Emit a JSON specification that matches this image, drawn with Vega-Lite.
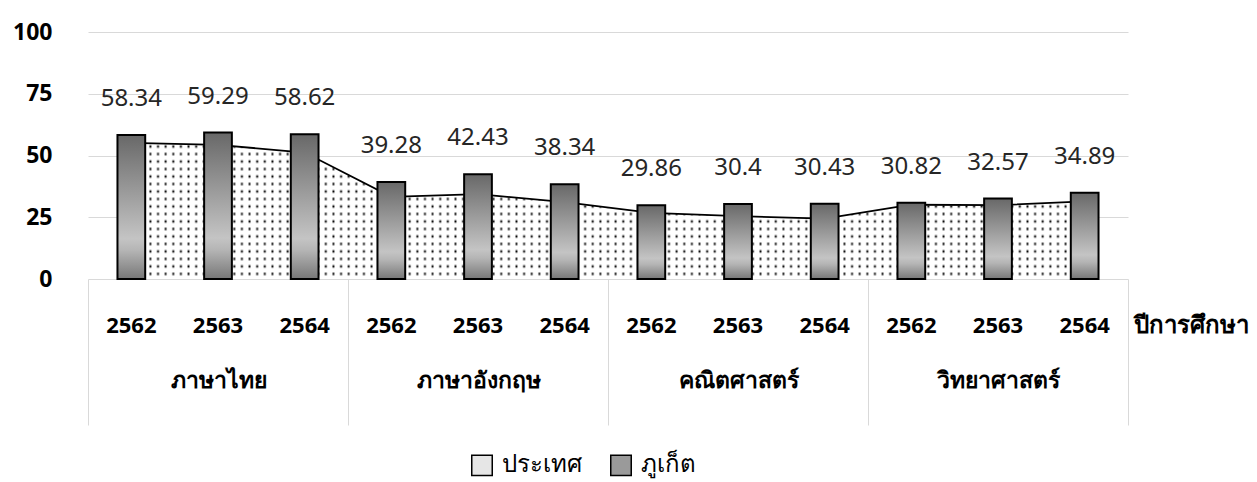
{
  "$schema": "https://vega.github.io/schema/vega-lite/v6.json",
  "width": 1040,
  "height": 247,
  "autosize": "none",
  "padding": {"left": 88, "top": 32, "right": 129, "bottom": 203},
  "background": "white",
  "config": {
    "view": {"stroke": null},
    "font": "Noto Sans"
  },
  "data": {"values": [
    {"subject": "ภาษาไทย", "year": "2562", "cat": "ภาษาไทย|2562", "series": "ภูเก็ต", "value": 58.34},
    {"subject": "ภาษาไทย", "year": "2563", "cat": "ภาษาไทย|2563", "series": "ภูเก็ต", "value": 59.29},
    {"subject": "ภาษาไทย", "year": "2564", "cat": "ภาษาไทย|2564", "series": "ภูเก็ต", "value": 58.62},
    {"subject": "ภาษาอังกฤษ", "year": "2562", "cat": "ภาษาอังกฤษ|2562", "series": "ภูเก็ต", "value": 39.28},
    {"subject": "ภาษาอังกฤษ", "year": "2563", "cat": "ภาษาอังกฤษ|2563", "series": "ภูเก็ต", "value": 42.43},
    {"subject": "ภาษาอังกฤษ", "year": "2564", "cat": "ภาษาอังกฤษ|2564", "series": "ภูเก็ต", "value": 38.34},
    {"subject": "คณิตศาสตร์", "year": "2562", "cat": "คณิตศาสตร์|2562", "series": "ภูเก็ต", "value": 29.86},
    {"subject": "คณิตศาสตร์", "year": "2563", "cat": "คณิตศาสตร์|2563", "series": "ภูเก็ต", "value": 30.4},
    {"subject": "คณิตศาสตร์", "year": "2564", "cat": "คณิตศาสตร์|2564", "series": "ภูเก็ต", "value": 30.43},
    {"subject": "วิทยาศาสตร์", "year": "2562", "cat": "วิทยาศาสตร์|2562", "series": "ภูเก็ต", "value": 30.82},
    {"subject": "วิทยาศาสตร์", "year": "2563", "cat": "วิทยาศาสตร์|2563", "series": "ภูเก็ต", "value": 32.57},
    {"subject": "วิทยาศาสตร์", "year": "2564", "cat": "วิทยาศาสตร์|2564", "series": "ภูเก็ต", "value": 34.89},
    {"subject": "ภาษาไทย", "year": "2562", "cat": "ภาษาไทย|2562", "series": "ประเทศ", "value": 55.14},
    {"subject": "ภาษาไทย", "year": "2563", "cat": "ภาษาไทย|2563", "series": "ประเทศ", "value": 54.29},
    {"subject": "ภาษาไทย", "year": "2564", "cat": "ภาษาไทย|2564", "series": "ประเทศ", "value": 51.19},
    {"subject": "ภาษาอังกฤษ", "year": "2562", "cat": "ภาษาอังกฤษ|2562", "series": "ประเทศ", "value": 33.25},
    {"subject": "ภาษาอังกฤษ", "year": "2563", "cat": "ภาษาอังกฤษ|2563", "series": "ประเทศ", "value": 34.38},
    {"subject": "ภาษาอังกฤษ", "year": "2564", "cat": "ภาษาอังกฤษ|2564", "series": "ประเทศ", "value": 31.11},
    {"subject": "คณิตศาสตร์", "year": "2562", "cat": "คณิตศาสตร์|2562", "series": "ประเทศ", "value": 26.73},
    {"subject": "คณิตศาสตร์", "year": "2563", "cat": "คณิตศาสตร์|2563", "series": "ประเทศ", "value": 25.46},
    {"subject": "คณิตศาสตร์", "year": "2564", "cat": "คณิตศาสตร์|2564", "series": "ประเทศ", "value": 24.47},
    {"subject": "วิทยาศาสตร์", "year": "2562", "cat": "วิทยาศาสตร์|2562", "series": "ประเทศ", "value": 30.07},
    {"subject": "วิทยาศาสตร์", "year": "2563", "cat": "วิทยาศาสตร์|2563", "series": "ประเทศ", "value": 29.89},
    {"subject": "วิทยาศาสตร์", "year": "2564", "cat": "วิทยาศาสตร์|2564", "series": "ประเทศ", "value": 31.45}
  ]},
  "layer": [
    {
      "layer": [
        {
          "transform": [{"filter": "datum.series === 'ประเทศ'"}],
          "mark": {
            "type": "area", "interpolate": "linear", "opacity": 1,
            "fill": {"gradient": "linear", "x1": 0, "y1": 0, "x2": 1, "y2": 0, "stops": [
{"offset":0.002,"color":"#fff"},{"offset":0.004,"color":"#000"},{"offset":0.006,"color":"#fff"},{"offset":0.010,"color":"#fff"},{"offset":0.012,"color":"#000"},{"offset":0.014,"color":"#fff"},{"offset":0.018,"color":"#fff"},{"offset":0.020,"color":"#000"},{"offset":0.022,"color":"#fff"},{"offset":0.026,"color":"#fff"},{"offset":0.028,"color":"#000"},{"offset":0.030,"color":"#fff"},{"offset":0.034,"color":"#fff"},{"offset":0.036,"color":"#000"},{"offset":0.038,"color":"#fff"},
{"offset":0.042,"color":"#fff"},{"offset":0.044,"color":"#000"},{"offset":0.046,"color":"#fff"},{"offset":0.050,"color":"#fff"},{"offset":0.052,"color":"#000"},{"offset":0.054,"color":"#fff"},{"offset":0.058,"color":"#fff"},{"offset":0.060,"color":"#000"},{"offset":0.062,"color":"#fff"},{"offset":0.066,"color":"#fff"},{"offset":0.068,"color":"#000"},{"offset":0.070,"color":"#fff"},{"offset":0.074,"color":"#fff"},{"offset":0.076,"color":"#000"},{"offset":0.078,"color":"#fff"},
{"offset":0.082,"color":"#fff"},{"offset":0.084,"color":"#000"},{"offset":0.086,"color":"#fff"},{"offset":0.090,"color":"#fff"},{"offset":0.092,"color":"#000"},{"offset":0.094,"color":"#fff"},{"offset":0.098,"color":"#fff"},{"offset":0.100,"color":"#000"},{"offset":0.102,"color":"#fff"},{"offset":0.106,"color":"#fff"},{"offset":0.108,"color":"#000"},{"offset":0.110,"color":"#fff"},{"offset":0.114,"color":"#fff"},{"offset":0.116,"color":"#000"},{"offset":0.118,"color":"#fff"},
{"offset":0.122,"color":"#fff"},{"offset":0.124,"color":"#000"},{"offset":0.126,"color":"#fff"},{"offset":0.130,"color":"#fff"},{"offset":0.132,"color":"#000"},{"offset":0.134,"color":"#fff"},{"offset":0.138,"color":"#fff"},{"offset":0.140,"color":"#000"},{"offset":0.142,"color":"#fff"},{"offset":0.146,"color":"#fff"},{"offset":0.148,"color":"#000"},{"offset":0.150,"color":"#fff"},{"offset":0.154,"color":"#fff"},{"offset":0.156,"color":"#000"},{"offset":0.158,"color":"#fff"},
{"offset":0.162,"color":"#fff"},{"offset":0.164,"color":"#000"},{"offset":0.166,"color":"#fff"},{"offset":0.170,"color":"#fff"},{"offset":0.172,"color":"#000"},{"offset":0.174,"color":"#fff"},{"offset":0.178,"color":"#fff"},{"offset":0.180,"color":"#000"},{"offset":0.182,"color":"#fff"},{"offset":0.186,"color":"#fff"},{"offset":0.188,"color":"#000"},{"offset":0.190,"color":"#fff"},{"offset":0.194,"color":"#fff"},{"offset":0.196,"color":"#000"},{"offset":0.198,"color":"#fff"},
{"offset":0.202,"color":"#fff"},{"offset":0.204,"color":"#000"},{"offset":0.206,"color":"#fff"},{"offset":0.210,"color":"#fff"},{"offset":0.212,"color":"#000"},{"offset":0.214,"color":"#fff"},{"offset":0.218,"color":"#fff"},{"offset":0.220,"color":"#000"},{"offset":0.222,"color":"#fff"},{"offset":0.226,"color":"#fff"},{"offset":0.228,"color":"#000"},{"offset":0.230,"color":"#fff"},{"offset":0.234,"color":"#fff"},{"offset":0.236,"color":"#000"},{"offset":0.238,"color":"#fff"},
{"offset":0.242,"color":"#fff"},{"offset":0.244,"color":"#000"},{"offset":0.246,"color":"#fff"},{"offset":0.250,"color":"#fff"},{"offset":0.252,"color":"#000"},{"offset":0.254,"color":"#fff"},{"offset":0.258,"color":"#fff"},{"offset":0.260,"color":"#000"},{"offset":0.262,"color":"#fff"},{"offset":0.266,"color":"#fff"},{"offset":0.268,"color":"#000"},{"offset":0.270,"color":"#fff"},{"offset":0.274,"color":"#fff"},{"offset":0.276,"color":"#000"},{"offset":0.278,"color":"#fff"},
{"offset":0.282,"color":"#fff"},{"offset":0.284,"color":"#000"},{"offset":0.286,"color":"#fff"},{"offset":0.290,"color":"#fff"},{"offset":0.292,"color":"#000"},{"offset":0.294,"color":"#fff"},{"offset":0.298,"color":"#fff"},{"offset":0.300,"color":"#000"},{"offset":0.302,"color":"#fff"},{"offset":0.306,"color":"#fff"},{"offset":0.308,"color":"#000"},{"offset":0.310,"color":"#fff"},{"offset":0.314,"color":"#fff"},{"offset":0.316,"color":"#000"},{"offset":0.318,"color":"#fff"},
{"offset":0.322,"color":"#fff"},{"offset":0.324,"color":"#000"},{"offset":0.326,"color":"#fff"},{"offset":0.330,"color":"#fff"},{"offset":0.332,"color":"#000"},{"offset":0.334,"color":"#fff"},{"offset":0.338,"color":"#fff"},{"offset":0.340,"color":"#000"},{"offset":0.342,"color":"#fff"},{"offset":0.346,"color":"#fff"},{"offset":0.348,"color":"#000"},{"offset":0.350,"color":"#fff"},{"offset":0.354,"color":"#fff"},{"offset":0.356,"color":"#000"},{"offset":0.358,"color":"#fff"},
{"offset":0.362,"color":"#fff"},{"offset":0.364,"color":"#000"},{"offset":0.366,"color":"#fff"},{"offset":0.370,"color":"#fff"},{"offset":0.372,"color":"#000"},{"offset":0.374,"color":"#fff"},{"offset":0.378,"color":"#fff"},{"offset":0.380,"color":"#000"},{"offset":0.382,"color":"#fff"},{"offset":0.386,"color":"#fff"},{"offset":0.388,"color":"#000"},{"offset":0.390,"color":"#fff"},{"offset":0.394,"color":"#fff"},{"offset":0.396,"color":"#000"},{"offset":0.398,"color":"#fff"},
{"offset":0.402,"color":"#fff"},{"offset":0.404,"color":"#000"},{"offset":0.406,"color":"#fff"},{"offset":0.410,"color":"#fff"},{"offset":0.412,"color":"#000"},{"offset":0.414,"color":"#fff"},{"offset":0.418,"color":"#fff"},{"offset":0.420,"color":"#000"},{"offset":0.422,"color":"#fff"},{"offset":0.426,"color":"#fff"},{"offset":0.428,"color":"#000"},{"offset":0.430,"color":"#fff"},{"offset":0.434,"color":"#fff"},{"offset":0.436,"color":"#000"},{"offset":0.438,"color":"#fff"},
{"offset":0.442,"color":"#fff"},{"offset":0.444,"color":"#000"},{"offset":0.446,"color":"#fff"},{"offset":0.450,"color":"#fff"},{"offset":0.452,"color":"#000"},{"offset":0.454,"color":"#fff"},{"offset":0.458,"color":"#fff"},{"offset":0.460,"color":"#000"},{"offset":0.462,"color":"#fff"},{"offset":0.466,"color":"#fff"},{"offset":0.468,"color":"#000"},{"offset":0.470,"color":"#fff"},{"offset":0.474,"color":"#fff"},{"offset":0.476,"color":"#000"},{"offset":0.478,"color":"#fff"},
{"offset":0.482,"color":"#fff"},{"offset":0.484,"color":"#000"},{"offset":0.486,"color":"#fff"},{"offset":0.490,"color":"#fff"},{"offset":0.492,"color":"#000"},{"offset":0.494,"color":"#fff"},{"offset":0.498,"color":"#fff"},{"offset":0.500,"color":"#000"},{"offset":0.502,"color":"#fff"},{"offset":0.506,"color":"#fff"},{"offset":0.508,"color":"#000"},{"offset":0.510,"color":"#fff"},{"offset":0.514,"color":"#fff"},{"offset":0.516,"color":"#000"},{"offset":0.518,"color":"#fff"},
{"offset":0.522,"color":"#fff"},{"offset":0.524,"color":"#000"},{"offset":0.526,"color":"#fff"},{"offset":0.530,"color":"#fff"},{"offset":0.532,"color":"#000"},{"offset":0.534,"color":"#fff"},{"offset":0.538,"color":"#fff"},{"offset":0.540,"color":"#000"},{"offset":0.542,"color":"#fff"},{"offset":0.546,"color":"#fff"},{"offset":0.548,"color":"#000"},{"offset":0.550,"color":"#fff"},{"offset":0.554,"color":"#fff"},{"offset":0.556,"color":"#000"},{"offset":0.558,"color":"#fff"},
{"offset":0.562,"color":"#fff"},{"offset":0.564,"color":"#000"},{"offset":0.566,"color":"#fff"},{"offset":0.570,"color":"#fff"},{"offset":0.572,"color":"#000"},{"offset":0.574,"color":"#fff"},{"offset":0.578,"color":"#fff"},{"offset":0.580,"color":"#000"},{"offset":0.582,"color":"#fff"},{"offset":0.586,"color":"#fff"},{"offset":0.588,"color":"#000"},{"offset":0.590,"color":"#fff"},{"offset":0.594,"color":"#fff"},{"offset":0.596,"color":"#000"},{"offset":0.598,"color":"#fff"},
{"offset":0.602,"color":"#fff"},{"offset":0.604,"color":"#000"},{"offset":0.606,"color":"#fff"},{"offset":0.610,"color":"#fff"},{"offset":0.612,"color":"#000"},{"offset":0.614,"color":"#fff"},{"offset":0.618,"color":"#fff"},{"offset":0.620,"color":"#000"},{"offset":0.622,"color":"#fff"},{"offset":0.626,"color":"#fff"},{"offset":0.628,"color":"#000"},{"offset":0.630,"color":"#fff"},{"offset":0.634,"color":"#fff"},{"offset":0.636,"color":"#000"},{"offset":0.638,"color":"#fff"},
{"offset":0.642,"color":"#fff"},{"offset":0.644,"color":"#000"},{"offset":0.646,"color":"#fff"},{"offset":0.650,"color":"#fff"},{"offset":0.652,"color":"#000"},{"offset":0.654,"color":"#fff"},{"offset":0.658,"color":"#fff"},{"offset":0.660,"color":"#000"},{"offset":0.662,"color":"#fff"},{"offset":0.666,"color":"#fff"},{"offset":0.668,"color":"#000"},{"offset":0.670,"color":"#fff"},{"offset":0.674,"color":"#fff"},{"offset":0.676,"color":"#000"},{"offset":0.678,"color":"#fff"},
{"offset":0.682,"color":"#fff"},{"offset":0.684,"color":"#000"},{"offset":0.686,"color":"#fff"},{"offset":0.690,"color":"#fff"},{"offset":0.692,"color":"#000"},{"offset":0.694,"color":"#fff"},{"offset":0.698,"color":"#fff"},{"offset":0.700,"color":"#000"},{"offset":0.702,"color":"#fff"},{"offset":0.706,"color":"#fff"},{"offset":0.708,"color":"#000"},{"offset":0.710,"color":"#fff"},{"offset":0.714,"color":"#fff"},{"offset":0.716,"color":"#000"},{"offset":0.718,"color":"#fff"},
{"offset":0.722,"color":"#fff"},{"offset":0.724,"color":"#000"},{"offset":0.726,"color":"#fff"},{"offset":0.730,"color":"#fff"},{"offset":0.732,"color":"#000"},{"offset":0.734,"color":"#fff"},{"offset":0.738,"color":"#fff"},{"offset":0.740,"color":"#000"},{"offset":0.742,"color":"#fff"},{"offset":0.746,"color":"#fff"},{"offset":0.748,"color":"#000"},{"offset":0.750,"color":"#fff"},{"offset":0.754,"color":"#fff"},{"offset":0.756,"color":"#000"},{"offset":0.758,"color":"#fff"},
{"offset":0.762,"color":"#fff"},{"offset":0.764,"color":"#000"},{"offset":0.766,"color":"#fff"},{"offset":0.770,"color":"#fff"},{"offset":0.772,"color":"#000"},{"offset":0.774,"color":"#fff"},{"offset":0.778,"color":"#fff"},{"offset":0.780,"color":"#000"},{"offset":0.782,"color":"#fff"},{"offset":0.786,"color":"#fff"},{"offset":0.788,"color":"#000"},{"offset":0.790,"color":"#fff"},{"offset":0.794,"color":"#fff"},{"offset":0.796,"color":"#000"},{"offset":0.798,"color":"#fff"},
{"offset":0.802,"color":"#fff"},{"offset":0.804,"color":"#000"},{"offset":0.806,"color":"#fff"},{"offset":0.810,"color":"#fff"},{"offset":0.812,"color":"#000"},{"offset":0.814,"color":"#fff"},{"offset":0.818,"color":"#fff"},{"offset":0.820,"color":"#000"},{"offset":0.822,"color":"#fff"},{"offset":0.826,"color":"#fff"},{"offset":0.828,"color":"#000"},{"offset":0.830,"color":"#fff"},{"offset":0.834,"color":"#fff"},{"offset":0.836,"color":"#000"},{"offset":0.838,"color":"#fff"},
{"offset":0.842,"color":"#fff"},{"offset":0.844,"color":"#000"},{"offset":0.846,"color":"#fff"},{"offset":0.850,"color":"#fff"},{"offset":0.852,"color":"#000"},{"offset":0.854,"color":"#fff"},{"offset":0.858,"color":"#fff"},{"offset":0.860,"color":"#000"},{"offset":0.862,"color":"#fff"},{"offset":0.866,"color":"#fff"},{"offset":0.868,"color":"#000"},{"offset":0.870,"color":"#fff"},{"offset":0.874,"color":"#fff"},{"offset":0.876,"color":"#000"},{"offset":0.878,"color":"#fff"},
{"offset":0.882,"color":"#fff"},{"offset":0.884,"color":"#000"},{"offset":0.886,"color":"#fff"},{"offset":0.890,"color":"#fff"},{"offset":0.892,"color":"#000"},{"offset":0.894,"color":"#fff"},{"offset":0.898,"color":"#fff"},{"offset":0.900,"color":"#000"},{"offset":0.902,"color":"#fff"},{"offset":0.906,"color":"#fff"},{"offset":0.908,"color":"#000"},{"offset":0.910,"color":"#fff"},{"offset":0.914,"color":"#fff"},{"offset":0.916,"color":"#000"},{"offset":0.918,"color":"#fff"},
{"offset":0.922,"color":"#fff"},{"offset":0.924,"color":"#000"},{"offset":0.926,"color":"#fff"},{"offset":0.930,"color":"#fff"},{"offset":0.932,"color":"#000"},{"offset":0.934,"color":"#fff"},{"offset":0.938,"color":"#fff"},{"offset":0.940,"color":"#000"},{"offset":0.942,"color":"#fff"},{"offset":0.946,"color":"#fff"},{"offset":0.948,"color":"#000"},{"offset":0.950,"color":"#fff"},{"offset":0.954,"color":"#fff"},{"offset":0.956,"color":"#000"},{"offset":0.958,"color":"#fff"},
{"offset":0.962,"color":"#fff"},{"offset":0.964,"color":"#000"},{"offset":0.966,"color":"#fff"},{"offset":0.970,"color":"#fff"},{"offset":0.972,"color":"#000"},{"offset":0.974,"color":"#fff"},{"offset":0.978,"color":"#fff"},{"offset":0.980,"color":"#000"},{"offset":0.982,"color":"#fff"},{"offset":0.986,"color":"#fff"},{"offset":0.988,"color":"#000"},{"offset":0.990,"color":"#fff"},{"offset":0.994,"color":"#fff"},{"offset":0.996,"color":"#000"},{"offset":0.998,"color":"#fff"}
            ]}
          },
          "encoding": {
            "x": {
              "field": "cat", "type": "nominal", "sort": null,
              "scale": {"type": "band", "paddingInner": 0.68, "paddingOuter": 0.34},
              "axis": {
                "title": "ปีการศึกษา",
                "labelExpr": "split(datum.label, '|')[1]",
                "labelAngle": 0,
                "ticks": false,
                "domain": false,
                "grid": false,
                "labelFontSize": 22,
                "labelFontWeight": "bold",
                "labelColor": "#000000",
                "labelBaseline": "middle",
                "labelPadding": 46,
                "labelOverlap": false,
                "titleX": 1045,
                "titleY": 46,
                "titleAlign": "left",
                "titleBaseline": "middle",
                "titleAngle": 0,
                "titleFontSize": 24,
                "titleFontWeight": "bold",
                "titleColor": "#000000"
              }
            },
            "y": {
              "field": "value", "type": "quantitative",
              "scale": {"domain": [0, 100], "nice": false},
              "axis": {
                "title": null,
                "values": [0, 25, 50, 75, 100],
                "grid": true,
                "gridColor": "#d9d9d9",
                "gridWidth": 1,
                "domain": false,
                "ticks": false,
                "labelFontSize": 23,
                "labelFontWeight": "bold",
                "labelColor": "#000000",
                "labelPadding": 36
              }
            }
          }
        },
        {
          "transform": [{"filter": "datum.series === 'ประเทศ'"}],
          "mark": {
            "type": "area", "interpolate": "linear", "opacity": 1,
            "fill": {"gradient": "linear", "x1": 0, "y1": 0, "x2": 0, "y2": 1, "stops": [
{"offset":0.0105,"color":"#ffffff"},{"offset":0.0275,"color":"rgba(255,255,255,0)"},{"offset":0.0445,"color":"#ffffff"},
{"offset":0.0655,"color":"#ffffff"},{"offset":0.0825,"color":"rgba(255,255,255,0)"},{"offset":0.0995,"color":"#ffffff"},
{"offset":0.1205,"color":"#ffffff"},{"offset":0.1375,"color":"rgba(255,255,255,0)"},{"offset":0.1545,"color":"#ffffff"},
{"offset":0.1755,"color":"#ffffff"},{"offset":0.1925,"color":"rgba(255,255,255,0)"},{"offset":0.2095,"color":"#ffffff"},
{"offset":0.2305,"color":"#ffffff"},{"offset":0.2475,"color":"rgba(255,255,255,0)"},{"offset":0.2645,"color":"#ffffff"},
{"offset":0.2855,"color":"#ffffff"},{"offset":0.3025,"color":"rgba(255,255,255,0)"},{"offset":0.3195,"color":"#ffffff"},
{"offset":0.3405,"color":"#ffffff"},{"offset":0.3575,"color":"rgba(255,255,255,0)"},{"offset":0.3745,"color":"#ffffff"},
{"offset":0.3955,"color":"#ffffff"},{"offset":0.4125,"color":"rgba(255,255,255,0)"},{"offset":0.4295,"color":"#ffffff"},
{"offset":0.4505,"color":"#ffffff"},{"offset":0.4675,"color":"rgba(255,255,255,0)"},{"offset":0.4845,"color":"#ffffff"},
{"offset":0.5055,"color":"#ffffff"},{"offset":0.5225,"color":"rgba(255,255,255,0)"},{"offset":0.5395,"color":"#ffffff"},
{"offset":0.5605,"color":"#ffffff"},{"offset":0.5775,"color":"rgba(255,255,255,0)"},{"offset":0.5945,"color":"#ffffff"},
{"offset":0.6155,"color":"#ffffff"},{"offset":0.6325,"color":"rgba(255,255,255,0)"},{"offset":0.6495,"color":"#ffffff"},
{"offset":0.6705,"color":"#ffffff"},{"offset":0.6875,"color":"rgba(255,255,255,0)"},{"offset":0.7045,"color":"#ffffff"},
{"offset":0.7255,"color":"#ffffff"},{"offset":0.7425,"color":"rgba(255,255,255,0)"},{"offset":0.7595,"color":"#ffffff"},
{"offset":0.7805,"color":"#ffffff"},{"offset":0.7975,"color":"rgba(255,255,255,0)"},{"offset":0.8145,"color":"#ffffff"},
{"offset":0.8355,"color":"#ffffff"},{"offset":0.8525,"color":"rgba(255,255,255,0)"},{"offset":0.8695,"color":"#ffffff"},
{"offset":0.8905,"color":"#ffffff"},{"offset":0.9075,"color":"rgba(255,255,255,0)"},{"offset":0.9245,"color":"#ffffff"},
{"offset":0.9455,"color":"#ffffff"},{"offset":0.9625,"color":"rgba(255,255,255,0)"},{"offset":0.9795,"color":"#ffffff"}
            ]}
          },
          "encoding": {
            "x": {"field": "cat", "type": "nominal", "sort": null},
            "y": {"field": "value", "type": "quantitative"}
          }
        },
        {
          "transform": [{"filter": "datum.series === 'ประเทศ'"}],
          "mark": {"type": "line", "color": "#000000", "strokeWidth": 1.8},
          "encoding": {
            "x": {"field": "cat", "type": "nominal", "sort": null},
            "y": {"field": "value", "type": "quantitative"}
          }
        },
        {
          "transform": [{"filter": "datum.series === 'ภูเก็ต'"}],
          "mark": {
            "type": "bar", "stroke": "#000000", "strokeWidth": 2,
            "fill": {"gradient": "linear", "x1": 0, "y1": 0, "x2": 0, "y2": 1,
              "stops": [
                {"offset": 0, "color": "#686868"},
                {"offset": 0.72, "color": "#c4c4c4"},
                {"offset": 0.8, "color": "#b5b5b5"},
                {"offset": 1, "color": "#777777"}
              ]}
          },
          "encoding": {
            "x": {"field": "cat", "type": "nominal", "sort": null},
            "y": {"field": "value", "type": "quantitative"}
          }
        },
        {
          "transform": [{"filter": "datum.series === 'ภูเก็ต'"}],
          "mark": {"type": "bar", "opacity": 0},
          "encoding": {
            "x": {"field": "cat", "type": "nominal", "sort": null},
            "y": {"field": "value", "type": "quantitative"},
            "fill": {
              "field": "series", "type": "nominal",
              "scale": {"domain": ["ประเทศ", "ภูเก็ต"], "range": ["#e6e6e6", "#9a9a9a"]},
              "legend": {
                "title": null,
                "orient": "none",
                "legendX": 382,
                "legendY": 421,
                "direction": "horizontal",
                "symbolType": "square",
                "symbolSize": 420,
                "symbolStrokeWidth": 1.5,
                "symbolOpacity": 1,
                "labelFontSize": 24,
                "labelColor": "#000000",
                "labelOffset": 8,
                "columnPadding": 25
              }
            },
            "stroke": {
              "field": "series", "type": "nominal",
              "scale": {"domain": ["ประเทศ", "ภูเก็ต"], "range": ["#000000", "#000000"]},
              "legend": {
                "title": null,
                "orient": "none",
                "legendX": 382,
                "legendY": 421,
                "direction": "horizontal",
                "symbolType": "square",
                "symbolSize": 420,
                "symbolStrokeWidth": 1.5,
                "symbolOpacity": 1,
                "labelFontSize": 24,
                "labelColor": "#000000",
                "labelOffset": 8,
                "columnPadding": 25
              }
            }
          }
        },
        {
          "transform": [{"filter": "datum.series === 'ภูเก็ต'"}],
          "mark": {"type": "text", "dy": -36, "fontSize": 24, "color": "#262626", "baseline": "middle"},
          "encoding": {
            "x": {"field": "cat", "type": "nominal", "sort": null},
            "y": {"field": "value", "type": "quantitative"},
            "text": {"field": "value", "type": "nominal"}
          }
        }
      ]
    },
    {
      "mark": {"type": "rule", "opacity": 0},
      "encoding": {
        "x": {
          "field": "subject", "type": "nominal", "sort": null,
          "scale": {"type": "band", "paddingInner": 0, "paddingOuter": 0},
          "axis": {
            "orient": "bottom",
            "title": null,
            "domain": false,
            "grid": false,
            "ticks": true,
            "tickBand": "extent",
            "tickSize": 146,
            "tickColor": "#d9d9d9",
            "tickWidth": 1,
            "labelAngle": 0,
            "labelFontSize": 23,
            "labelFontWeight": "bold",
            "labelColor": "#000000",
            "labelBaseline": "middle",
            "labelPadding": -45
          }
        }
      }
    }
  ],
  "resolve": {"scale": {"x": "independent"}}
}
